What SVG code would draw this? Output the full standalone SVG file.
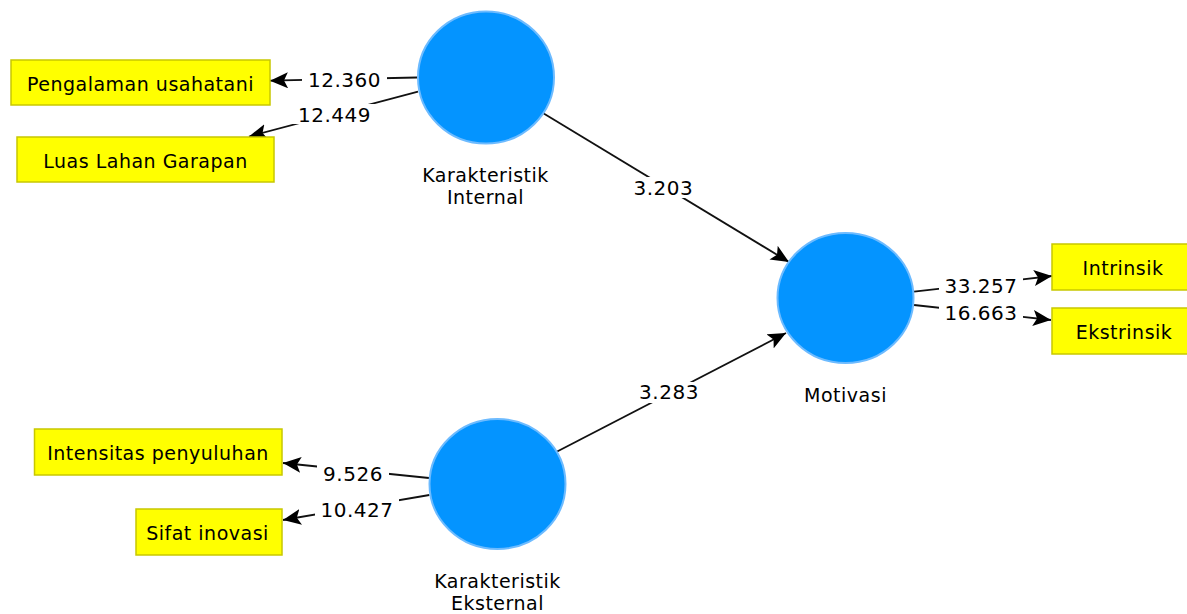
<svg xmlns="http://www.w3.org/2000/svg" width="1187" height="614" viewBox="0 0 1187 614">
<style>
  text { font-family: "DejaVu Sans", "Liberation Sans", sans-serif; font-size: 19px; letter-spacing: 0.5px; fill: #000; text-anchor: middle; }
  .num { font-size: 20px; }
  .box { fill: #FFFF00; stroke: #C8C800; stroke-width: 1.5; }
  .lv { fill: #0494FF; stroke: #6DBBFF; stroke-width: 2; }
  .edge { stroke: #111; stroke-width: 1.8; fill: none; marker-end: url(#arr); }
  .lblbg { fill: #FFFFFF; }
</style>
<defs>
  <marker id="arr" viewBox="0 0 18 16" refX="18" refY="8" markerWidth="18" markerHeight="16" markerUnits="userSpaceOnUse" orient="auto">
    <path d="M0,0 L18,8 L0,16 L4,8 z" fill="#000"/>
  </marker>
</defs>
<rect width="1187" height="614" fill="#FFFFFF"/>

<g id="connectors">
  <line class="edge" x1="417" y1="77.5" x2="270" y2="80.7"/>
  <line class="edge" x1="418" y1="91.7" x2="249" y2="136.5"/>
  <line class="edge" x1="543.3" y1="113.3" x2="789" y2="262"/>
  <line class="edge" x1="556.7" y1="451.7" x2="786" y2="333"/>
  <line class="edge" x1="429" y1="478" x2="283" y2="463"/>
  <line class="edge" x1="429.4" y1="495" x2="283" y2="520"/>
  <line class="edge" x1="914" y1="291.7" x2="1052" y2="276"/>
  <line class="edge" x1="914" y1="305" x2="1051" y2="320"/>

  <rect class="lblbg" x="302" y="70" width="85" height="20"/>
  <text class="num" x="344.5" y="87.3">12.360</text>
  <rect class="lblbg" x="292" y="104" width="85" height="20"/>
  <text class="num" x="334.5" y="121.7">12.449</text>
  <rect class="lblbg" x="628" y="177" width="71" height="21"/>
  <text class="num" x="663.3" y="195">3.203</text>
  <rect class="lblbg" x="634" y="382" width="71" height="21"/>
  <text class="num" x="669" y="399.3">3.283</text>
  <rect class="lblbg" x="317" y="464" width="72" height="20"/>
  <text class="num" x="353" y="481">9.526</text>
  <rect class="lblbg" x="315" y="499" width="84" height="20"/>
  <text class="num" x="357" y="516.7">10.427</text>
  <rect class="lblbg" x="939" y="276" width="84" height="20"/>
  <text class="num" x="981" y="292.7">33.257</text>
  <rect class="lblbg" x="939" y="304" width="84" height="19"/>
  <text class="num" x="981" y="320">16.663</text>
</g>

<g id="karakteristik-internal">
  <ellipse class="lv" cx="486" cy="77.5" rx="68" ry="66"/>
  <text x="485.5" y="182">Karakteristik</text>
  <text x="485.5" y="204">Internal</text>
</g>
<g id="karakteristik-eksternal">
  <ellipse class="lv" cx="497.5" cy="484" rx="68" ry="65"/>
  <text x="497.5" y="588">Karakteristik</text>
  <text x="497.5" y="610">Eksternal</text>
</g>
<g id="motivasi">
  <ellipse class="lv" cx="845.5" cy="298" rx="68" ry="65"/>
  <text x="845.5" y="401.7">Motivasi</text>
</g>

<g id="pengalaman-usahatani">
  <rect class="box" x="11" y="60" width="259" height="45"/>
  <text x="140.5" y="91">Pengalaman usahatani</text>
</g>
<g id="luas-lahan-garapan">
  <rect class="box" x="17" y="137" width="257" height="45"/>
  <text x="145.5" y="168">Luas Lahan Garapan</text>
</g>
<g id="intensitas-penyuluhan">
  <rect class="box" x="34.5" y="429" width="247.5" height="46"/>
  <text x="158" y="460">Intensitas penyuluhan</text>
</g>
<g id="sifat-inovasi">
  <rect class="box" x="136" y="509" width="146" height="46"/>
  <text x="207.5" y="540">Sifat inovasi</text>
</g>
<g id="intrinsik">
  <rect class="box" x="1052" y="244" width="143" height="46"/>
  <text x="1123" y="275">Intrinsik</text>
</g>
<g id="ekstrinsik">
  <rect class="box" x="1052" y="308" width="143" height="46"/>
  <text x="1124" y="339">Ekstrinsik</text>
</g>
</svg>
